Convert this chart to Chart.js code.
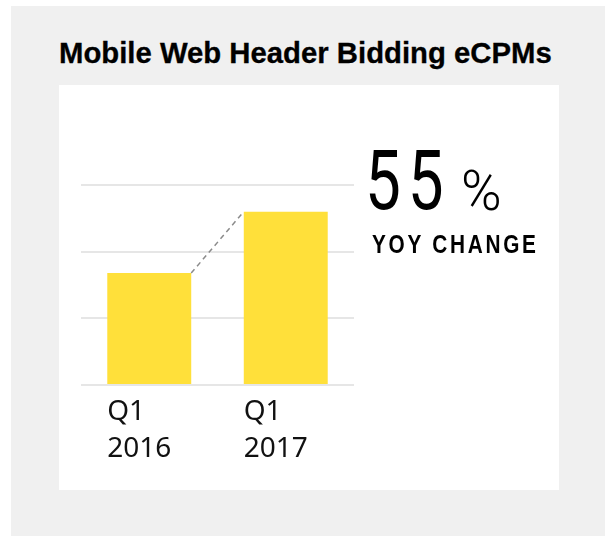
<!DOCTYPE html>
<html>
<head>
<meta charset="utf-8">
<script src="https://cdn.jsdelivr.net/npm/chart.js@4"></script>
<style>
  body { margin: 0; background: #fff; width: 605px; height: 536px; position: relative; overflow: hidden; }
  #panel { position: absolute; left: 11px; top: 6px; width: 594px; height: 530px; background: #f0f0f0; }
  #title { position: absolute; left: 59px; top: 38px; margin: 0; font: bold 29.3px "Liberation Sans", Arial, sans-serif; line-height: 1; color: #000; white-space: nowrap; -webkit-text-stroke: 0.3px #000; }
  #card { position: absolute; left: 59px; top: 85px; width: 500px; height: 405px; background: #fff; }
  #card canvas { position: absolute; left: 0; top: 0; }
  #big { position: absolute; left: 306px; top: 54px; font: 400 84px Roboto, sans-serif; line-height: 1; color: #000; letter-spacing: 9px; transform: scaleX(0.76); transform-origin: 0 0; white-space: nowrap; }
  #pct { position: absolute; left: 402px; top: 79px; font: 300 55px Roboto, sans-serif; line-height: 1; color: #000; white-space: nowrap; }
  #yoy { position: absolute; left: 313px; top: 146px; font: bold 26px "Liberation Sans", sans-serif; line-height: 1; letter-spacing: 3.4px; color: #000; white-space: nowrap; transform: scaleX(0.8); transform-origin: 0 0; }
</style>
</head>
<body>
<div id="panel"></div>
<h1 id="title">Mobile Web Header Bidding eCPMs</h1>
<div id="card">
  <canvas id="myChart" width="500" height="405"></canvas>
  <div id="big">55</div>
  <div id="pct">%</div>
  <div id="yoy">YOY CHANGE</div>
</div>
<script>
// data (axis has no labels, gridlines at 1 unit steps)
const quarters = [['Q1', '2016'], ['Q1', '2017']];
const ecpms = [1.68, 2.6];
const yMax = 3;
const yStep = 1;

// dashed connector between the two bar tops
const connector = {
    id: 'connector',
    afterDatasetsDraw(chart) {
        const bars = chart.getDatasetMeta(0).data;
        if (bars.length < 2) return;
        const a = bars[0], b = bars[1];
        const c = chart.ctx;
        c.save();
        c.strokeStyle = '#8a8a8a';
        c.lineWidth = 1.5;
        c.setLineDash([5, 4]);
        c.beginPath();
        c.moveTo(a.x + a.width / 2, a.y);
        c.lineTo(b.x - b.width / 2, b.y);
        c.stroke();
        c.restore();
    }
};

const ctx = document.getElementById('myChart').getContext('2d');

const chart = new Chart(ctx, {
    type: 'bar',
    data: {
        labels: quarters,
        datasets: [{
            data: ecpms,
            backgroundColor: '#ffe03a',
            borderWidth: 0,
            barPercentage: 0.615,
            categoryPercentage: 1
        }]
    },
    options: {
        responsive: false,
        animation: false,
        events: [],
        layout: {
            padding: { left: 22, right: 205, top: 100, bottom: 0 }
        },
        plugins: {
            legend: { display: false },
            tooltip: { enabled: false }
        },
        scales: {
            x: {
                grid: { display: false },
                border: { display: false },
                afterFit(scale) { scale.height = 105; },
                ticks: {
                    color: '#111',
                    align: 'start',
                    labelOffset: -42,
                    padding: 1,
                    maxRotation: 0,
                    font: { family: '"Noto Sans", sans-serif', size: 28, lineHeight: 1.3 }
                }
            },
            y: {
                min: 0,
                max: yMax,
                grid: { color: '#e6e6e6', lineWidth: 2, drawTicks: false },
                border: { display: false },
                ticks: { display: false, stepSize: yStep }
            }
        }
    },
    plugins: [connector]
});
</script>
</body>
</html>
